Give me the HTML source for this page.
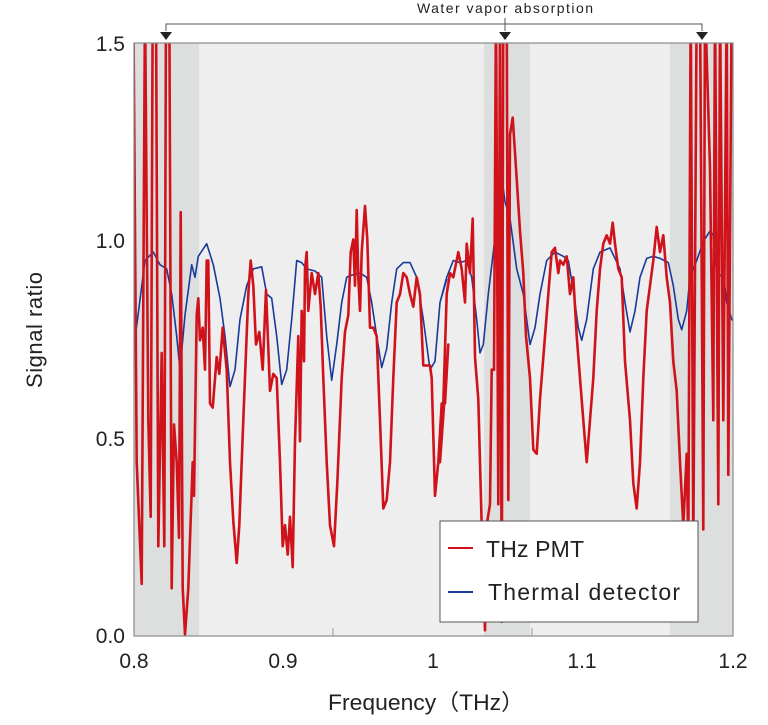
<!DOCTYPE html>
<html><head><meta charset="utf-8"><style>
body{margin:0;background:#fff;width:768px;height:720px;overflow:hidden;font-family:"Liberation Sans",sans-serif}
</style></head><body>
<svg id="s" width="768" height="720" xmlns="http://www.w3.org/2000/svg" font-family="Liberation Sans, sans-serif">
<defs><clipPath id="c"><rect x="134" y="43" width="599" height="593"/></clipPath></defs>
<rect x="134" y="43" width="599" height="593" fill="#eeeeee"/>
<rect x="134" y="43" width="65" height="593" fill="#dddfdf"/>
<rect x="484" y="43" width="46" height="593" fill="#dddfdf"/>
<rect x="670" y="43" width="63" height="593" fill="#dddfdf"/>
<line x1="333" y1="636" x2="333" y2="628" stroke="#999"/>
<line x1="532" y1="636" x2="532" y2="628" stroke="#999"/>
<g clip-path="url(#c)">
<polyline id="blue" fill="none" stroke="#1a3a9a" stroke-width="1.6" stroke-linejoin="round"/>
<polyline id="red" fill="none" stroke="#d0121b" stroke-width="2.6" stroke-linejoin="round"/>
</g>
<rect x="134" y="43" width="599" height="593" fill="none" stroke="#8a8a8a" stroke-width="1.2"/>
<polyline points="166,31 166,24 702,24 702,31" fill="none" stroke="#555" stroke-width="1"/>
<line x1="505" y1="18" x2="505" y2="31" stroke="#555"/>
<polygon points="160,32 172,32 166,40" fill="#222"/>
<polygon points="499,32 511,32 505,40" fill="#222"/>
<polygon points="696,32 708,32 702,40" fill="#222"/>
<text x="505" y="13" font-size="14" text-anchor="middle" fill="#222" textLength="176">Water vapor absorption</text>
<g font-size="21" fill="#222" text-anchor="end">
<text x="125" y="51">1.5</text><text x="125" y="248">1.0</text><text x="125" y="446">0.5</text><text x="125" y="643">0.0</text>
</g>
<g font-size="21" fill="#222" text-anchor="middle">
<text x="134" y="668">0.8</text><text x="283" y="668">0.9</text><text x="433" y="668">1</text><text x="582" y="668">1.1</text><text x="733" y="668">1.2</text>
</g>
<text x="328" y="710" font-size="22" fill="#222" textLength="196" lengthAdjust="spacingAndGlyphs" font-family="Liberation Sans, Noto Sans CJK JP, sans-serif">Frequency（THz）</text>
<text transform="translate(42,330) rotate(-90)" font-size="22" text-anchor="middle" fill="#222" textLength="116">Signal ratio</text>
<rect x="440" y="521" width="258" height="101" fill="#fff" stroke="#555" stroke-width="1"/>
<line x1="448" y1="548" x2="473" y2="548" stroke="#d0121b" stroke-width="2"/>
<line x1="448" y1="592" x2="473" y2="592" stroke="#1a3a9a" stroke-width="2"/>
<text x="486" y="557" font-size="23" fill="#222" textLength="98">THz PMT</text>
<text x="488" y="600" font-size="23" fill="#222" textLength="192">Thermal detector</text>
</svg>
<script>
function conv(a,ox){var o=[];for(var i=0;i<a.length;i+=2){o.push((ox+a[i]/3).toFixed(1)+','+(a[i+1]/2.38).toFixed(1));}return o;}
var b1=[0,900,45,620,70,600,90,630,110,640,125,700,140,800,150,880,165,750,185,630,195,660,205,610,230,580,250,630,270,710,285,800,300,920,315,880,330,760,350,680,370,640,395,635,410,700,425,710,440,800,455,915,470,880,485,760,500,620,515,625,530,640,555,645,575,660,590,800,605,905,620,820,635,720,650,660,665,655,690,650,710,660,725,720,740,800,755,875,770,830,785,720,800,640,820,625,840,625,860,660,880,760,900,880,915,860,930,720,950,665];
var b2=[0,720,20,660,40,620,60,625,80,620,95,660,110,760,120,840,130,820,145,700,160,600,175,500,185,420,195,480,210,520,230,640,250,700,270,820,285,780,300,700,320,620,345,600,370,610,385,620,400,690,415,780,425,810,440,760,460,640,480,600,510,590,540,640,555,720,570,790,585,740,600,660,620,615,640,610,660,615,685,625,700,680,715,760,725,785,740,740,750,660,770,620,790,575,810,550,820,560,825,620,835,660,850,650,860,720,875,760,900,780];
var r1=[10,0,20,1100,35,1390,45,0,55,1000,62,1230,68,0,78,0,85,1300,95,840,103,1300,108,0,118,0,125,1400,132,1010,140,1100,147,1280,152,505,158,1400,165,1510,175,1400,188,1100,192,1180,200,750,205,710,210,810,218,780,225,880,230,620,235,620,240,960,248,970,260,850,268,890,278,780,290,880,300,1100,310,1240,320,1340,328,1250,340,1000,355,700,362,620,370,680,378,820,388,790,398,880,408,690,420,930,430,890,440,900,450,1100,458,1300,465,1250,473,1320,480,1230,488,1350,495,1050,505,800,510,1050,515,740,522,860,525,640,530,600,535,740,545,650,555,700,565,650,572,730,580,900,590,1100,600,1250,612,1300,622,1150,635,900,645,790,655,750,662,600,670,570,675,680,680,500,685,660,690,740,695,600,705,490,712,570,720,780,730,780,740,800,750,1000,760,1210,770,1190,780,1100,790,900,800,720,810,700,820,650,830,660,840,700,850,730,860,660,870,700,880,870,890,870,900,870,905,900,915,1180,925,1100,935,960,945,960,955,820];
var r2=[0,1100,10,960,20,700,30,650,40,660,55,600,65,640,75,720,80,580,90,650,98,520,105,850,115,950,125,1250,135,1500,140,1250,150,1200,155,880,162,880,168,0,175,1200,180,0,185,1480,190,0,200,0,205,1190,210,320,218,280,228,400,240,550,250,650,258,800,270,900,280,1070,290,1080,300,950,315,800,325,700,335,600,345,590,355,650,360,620,370,630,380,610,390,700,400,660,410,800,420,900,430,1000,440,1100,450,1000,460,900,470,740,480,640,490,580,500,560,510,580,518,530,525,580,535,640,545,660,555,860,570,1000,580,1150,590,1210,600,1100,610,900,620,740,630,680,640,620,650,540,660,600,670,560,680,660,690,720,700,860,710,930,720,1100,730,1250,740,1080,745,1300,752,0,760,1300,770,0,780,0,790,1260,795,0,810,400,820,1000,825,0,835,1200,840,0,850,1000,860,0,865,1130,875,0];
document.getElementById('blue').setAttribute('points',conv(b1,130).concat(conv(b2,440)).join(' '));
document.getElementById('red').setAttribute('points',conv(r1,130).concat(conv(r2,440)).join(' '));
</script>
</body></html>
